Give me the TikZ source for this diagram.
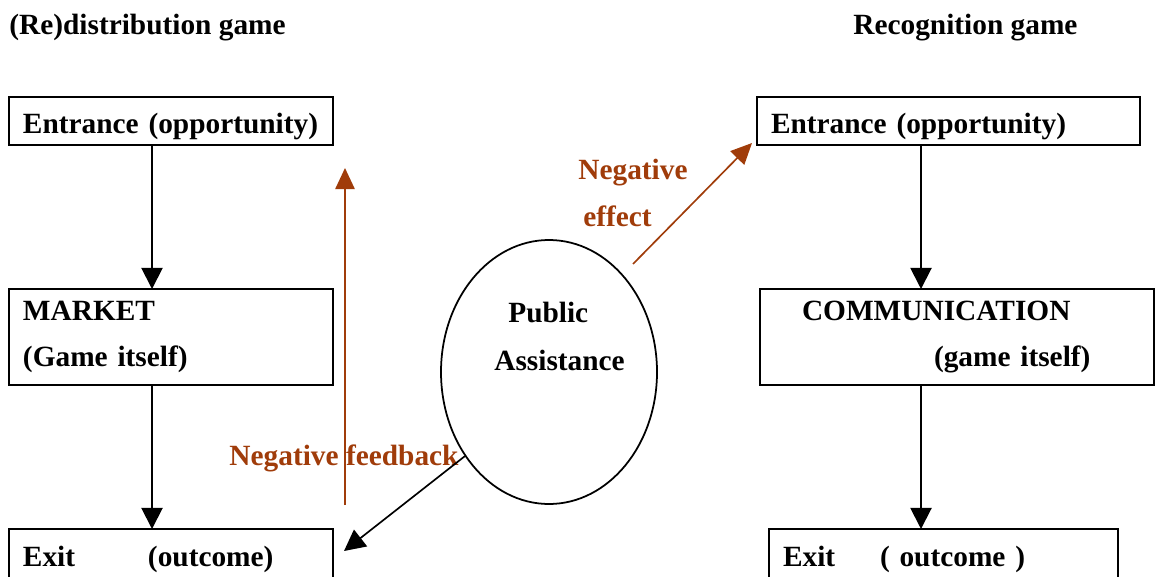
\documentclass[tikz,border=0pt]{standalone}
\usepackage{fontspec}
\setmainfont{Liberation Serif}
\usepackage{tikz}
\usetikzlibrary{shapes.geometric, arrows.meta, positioning, calc}
\definecolor{rust}{RGB}{160,60,10}
\tikzstyle{gamebox} = [rectangle, draw=black, line width=1.4pt, inner xsep=0.28cm, inner ysep=0pt, outer sep=0pt, minimum height=0.96cm, align=left]
\tikzstyle{oneline} = [text height=0.56cm, text depth=0.08cm]
\tikzstyle{heading} = [anchor=base west, inner sep=0pt]
\tikzstyle{effectlabel} = [text=rust, inner sep=0pt, align=left]
\tikzstyle{arrow} = [line width=1.1pt, -{Triangle[length=12pt, width=12pt]}]
\tikzstyle{rustarrow} = [line width=0.95pt, draw=rust, -{Triangle[length=12pt, width=11pt, fill=rust]}]

\begin{document}
\begin{tikzpicture}[node distance=2.88cm, font=\fontsize{16.7}{26.6}\selectfont\bfseries]
			
			\useasboundingbox (0,0) rectangle (23.1,-11.52);
			
			% headings
			\node (lhead) [heading] at (0.18,-0.70) {(Re)distribution game};
			\node (rhead) [heading] at (17.06,-0.70) {Recognition game};
			
			% (re)distribution side
			\node (lent) [gamebox, oneline, text width=5.92cm, anchor=north west] at (0.18,-1.94) {Entrance (opportunity)};
			
			\node (lmkt) [gamebox, text width=5.92cm, minimum height=1.92cm, below=of lent] {MARKET\\(Game itself)};
			
			\node (lexit) [gamebox, oneline, text width=5.92cm, minimum height=1.0cm, below=of lmkt] {\makebox[2.5cm][l]{Exit}(outcome)};
			
			% recognition side
			\node (rent) [gamebox, oneline, text width=7.10cm, anchor=north west] at (15.14,-1.94) {Entrance (opportunity)};
			
			\node (rcomm) [gamebox, text width=7.32cm, minimum height=1.92cm, below right=2.88cm and 0.06cm of rent.south west] {\hspace*{0.56cm}COMMUNICATION\\\hspace*{3.2cm}(game itself)};
			
			\node (rexit) [gamebox, oneline, text width=6.42cm, minimum height=1.0cm, below right=2.88cm and 0.18cm of rcomm.south west] {\makebox[1.94cm][l]{Exit}( outcome )};
			
			% public assistance
			\node (pa) [ellipse, draw=black, line width=1pt, minimum width=4.32cm, minimum height=5.28cm, inner sep=0pt] at (10.98,-7.44) {};
			\node (pub) [heading] at ([xshift=-0.82cm, yshift=1.00cm]pa.center) {Public};
			\node (assist) [heading] at ([xshift=-1.10cm, yshift=0.04cm]pa.center) {Assistance};
			
			% negative effects
			\node (negeff) [effectlabel, anchor=base west] at (11.56,-4.52) {Negative\\\hspace*{0.1cm}effect};
			\node (negfb) [effectlabel, anchor=base] at (6.88,-9.30) {Negative feedback};
			
			\coordinate (fbfoot) at (6.90,-10.10);
			\coordinate (fbtip) at (6.90,-3.36);
			\coordinate (effoot) at (12.66,-5.28);
			
			\draw [arrow] ([xshift=-0.38cm]lent.south) -- ([xshift=-0.38cm]lmkt.north);
			\draw [arrow] ([xshift=-0.38cm]lmkt.south) -- ([xshift=-0.38cm]lexit.north);
			\draw [arrow] ([xshift=-0.55cm]rent.south) -- ([xshift=-0.72cm]rcomm.north);
			\draw [arrow] ([xshift=-0.72cm]rcomm.south) -- ([xshift=-0.45cm]rexit.north);
			\draw [rustarrow] (fbfoot) -- (fbtip);
			\draw [rustarrow] (effoot) -- ([xshift=-0.1cm, yshift=0.04cm]rent.south west);
			\draw [arrow, line width=0.95pt] (pa.225) -- ([xshift=0.22cm, yshift=0.06cm]lexit.east);
			\end{tikzpicture}
\end{document}
